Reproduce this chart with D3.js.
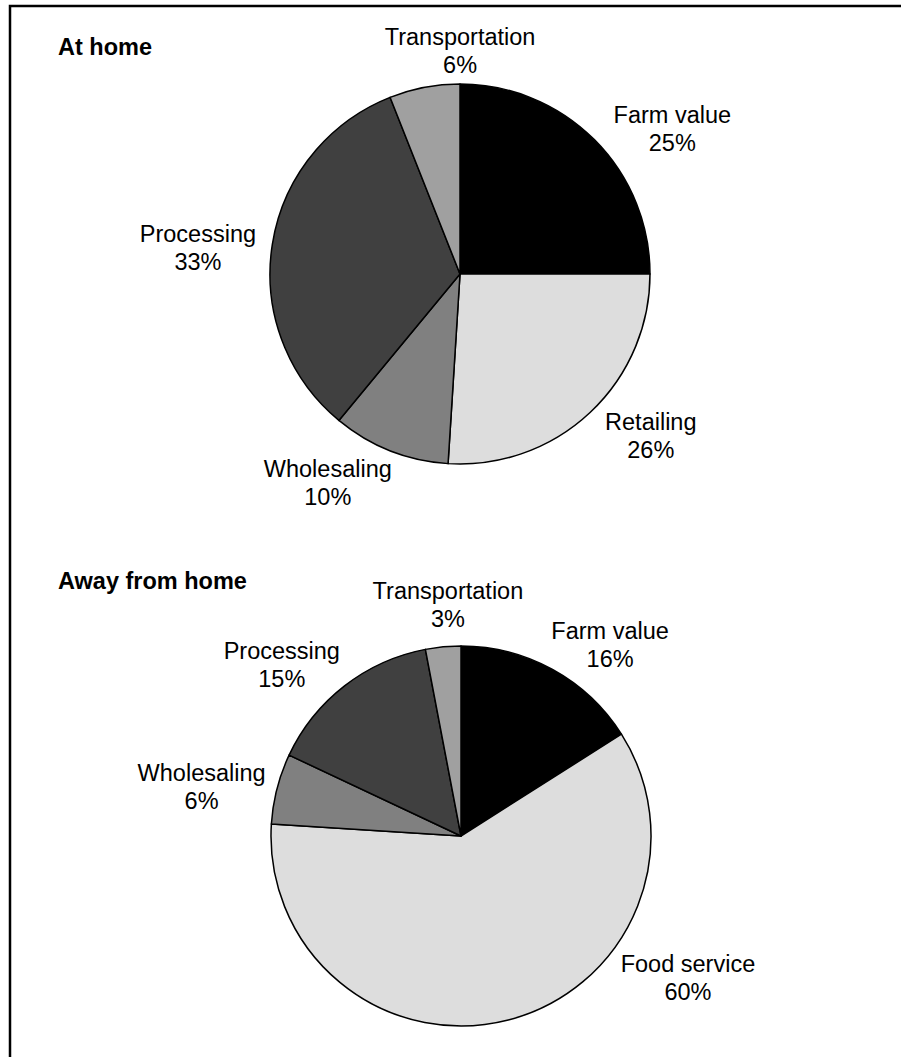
<!DOCTYPE html>
<html>
<head>
<meta charset="utf-8">
<script src="https://cdnjs.cloudflare.com/ajax/libs/d3/7.8.5/d3.min.js"></script>
<style>
  html, body { margin: 0; padding: 0; background: #fff; }
  svg { display: block; font-family: "Liberation Sans", Arial, sans-serif; }
</style>
</head>
<body>
<div id="chart"></div>
<script>
// Data
const homeCategories = ['Farm value', 'Retailing', 'Wholesaling', 'Processing', 'Transportation'];
const homeValues = [25, 26, 10, 33, 6];
const awayCategories = ['Farm value', 'Food service', 'Wholesaling', 'Processing', 'Transportation'];
const awayValues = [16, 60, 6, 15, 3];

// Styles
const colorScale = d3.scaleOrdinal()
    .domain(['Farm value', 'Retailing', 'Food service', 'Wholesaling', 'Processing', 'Transportation'])
    .range(['#000000', '#dddddd', '#dddddd', '#808080', '#404040', '#a0a0a0']);

// label nudges from the outer label arc (layout only)
const homeNudge = [[39, 28], [23, -17], [-42, -19], [-20, 12], [46, 18]];
const awayNudge = [[31, 24], [166, -96], [-22, 12], [-29, 22], [10, 13]];

const width = 901, height = 1057;
const radius = 190;

const svg = d3.select('#chart')
    .append('svg')
    .attr('width', width)
    .attr('height', height);

// frame (cut at right and bottom)
svg.append('path')
    .attr('d', `M10,${height} V6 H${width}`)
    .attr('fill', 'none')
    .attr('stroke', '#000')
    .attr('stroke-width', 2.5);

const pie = d3.pie().value(d => d.value).sort(null);
const arc = d3.arc().innerRadius(0).outerRadius(radius);
const labelArc = d3.arc().innerRadius(radius * 1.29).outerRadius(radius * 1.29);

function drawPie(title, titleY, cx, cy, cats, vals, nudges) {
    const data = cats.map((c, i) => ({ name: c, value: vals[i] }));

    svg.append('text')
        .attr('x', 58)
        .attr('y', titleY)
        .attr('dy', '0.35em')
        .style('font-size', '23.5px')
        .style('font-weight', 'bold')
        .text(title);

    const g = svg.append('g')
        .attr('transform', `translate(${cx},${cy})`);

    g.selectAll('path')
        .data(pie(data))
        .enter()
        .append('path')
        .attr('d', arc)
        .attr('fill', d => colorScale(d.data.name))
        .attr('stroke', '#000')
        .attr('stroke-width', 1.5)
        .attr('stroke-linejoin', 'round');

    const labels = g.selectAll('.lbl')
        .data(pie(data))
        .enter()
        .append('text')
        .attr('class', 'lbl')
        .attr('text-anchor', 'middle')
        .style('font-size', '23.5px')
        .attr('transform', (d, i) => {
            const c = labelArc.centroid(d);
            return `translate(${c[0] + nudges[i][0]},${c[1] + nudges[i][1]})`;
        });

    labels.append('tspan')
        .attr('x', 0)
        .attr('y', -14)
        .attr('dy', '0.35em')
        .text(d => d.data.name);

    labels.append('tspan')
        .attr('x', 0)
        .attr('y', 14)
        .attr('dy', '0.35em')
        .text(d => `${d.data.value}%`);
}

drawPie('At home', 47, 460, 274, homeCategories, homeValues, homeNudge);
drawPie('Away from home', 581, 461, 836, awayCategories, awayValues, awayNudge);
</script>
</body>
</html>
